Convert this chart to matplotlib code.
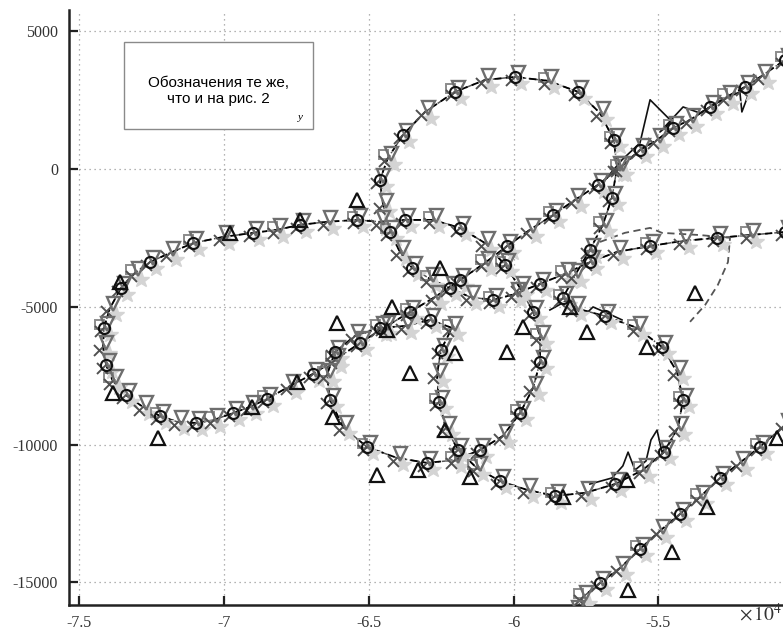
import matplotlib
matplotlib.use("Agg")
import matplotlib.pyplot as plt
from matplotlib.patches import Rectangle
from matplotlib.markers import MarkerStyle
from matplotlib.transforms import Affine2D

# ---------------- data ----------------
path_x = [-50630, -51840, -52980, -54150, -55290, -56430, -57370, -58230, -59090, -59960,
          -60710, -61510, -62200, -62890, -63510, -63930, -64270, -64510, -64620, -64340,
          -63820, -63060, -62030, -60990, -59960, -58820, -57780, -57020, -56540, -56430,
          -56610, -56920, -57370, -57880, -58300, -57880, -56850, -55740, -54880, -54360,
          -54150, -54330, -54810, -55540, -56500, -57540, -58570, -59540, -60470, -61270,
          -61920, -62340, -62580, -62650, -62510, -62130, -62890, -63750, -64620, -65480,
          -66170, -66450, -66340, -65890, -65070, -64030, -62990, -62030, -61160, -60370,
          -59780, -59330, -59090, -59090, -59330, -59780, -60300, -60990, -61850, -62790,
          -63750, -64620, -65410, -66450, -67380, -68170, -69000, -70040, -71070, -71870,
          -72560, -73080, -73560, -73940, -74150, -74180, -74080, -73840, -73390, -72800,
          -72210, -71590, -70970, -70350, -69690, -69110, -68520, -67720, -66930, -66170,
          -65310, -64440, -63580, -62720, -61850, -60990, -60230, -59440, -58640, -57880,
          -57090, -56330, -55640, -55050, -54500, -53910, -53220, -52640, -52010, -51430, -50630]
path_y = [-2280, -2390, -2490, -2600, -2790, -3000, -3370, -3800, -4160, -4530,
          -4750, -4640, -4310, -3980, -3580, -3000, -2280, -1300, -390, 410,
          1250, 2080, 2810, 3240, 3350, 3210, 2810, 2040, 1060, 50,
          -1040, -2020, -2930, -3840, -4670, -5040, -5330, -5760, -6450, -7360,
          -8380, -9390, -10270, -10920, -11430, -11750, -11860, -11640, -11320, -10850,
          -10190, -9390, -8450, -7470, -6560, -5760, -5470, -5690, -5760, -6050,
          -6630, -7470, -8380, -9360, -10080, -10480, -10660, -10560, -10190, -9680,
          -8850, -7940, -7000, -6090, -5180, -4310, -3470, -2680, -2130, -1840,
          -1840, -1910, -1840, -1910, -2020, -2200, -2310, -2460, -2680, -3040,
          -3370, -3770, -4310, -5040, -5760, -6450, -7110, -7690, -8200, -8630,
          -8960, -9180, -9210, -9100, -8850, -8630, -8340, -7870, -7430, -6920,
          -6310, -5730, -5180, -4640, -4020, -3400, -2790, -2200, -1660, -1110,
          -570, 50, 700, 1060, 1500, 1790, 2260, 2630, 2990, 3390, 3970]

seg2_x = [-57880, -57610, -57020, -56330, -55640, -54950, -54260, -53570, -52880, -52190, -51500, -50630]
seg2_y = [-16070, -15530, -15020, -14480, -13790, -13130, -12520, -11900, -11210, -10660, -10080, -9280]

jag1_x = [-56850, -56260, -55640, -55290, -54530, -54950, -54150, -53570, -53050, -52190, -52120, -51770]
jag1_y = [-390, 340, 950, 2520, 1720, 1350, 2260, 2040, 2370, 2810, 2080, 3060]
jag2_x = [-58750, -58060, -57610, -57260, -56780, -56260]
jag2_y = [-5110, -4710, -5360, -5000, -5220, -5470]
jag3_x = [-57370, -56610, -56230, -56050, -55810, -55430, -55260, -55050, -54880, -54530]
jag3_y = [-11430, -11210, -10770, -10270, -10920, -10590, -9830, -9470, -10270, -9830]

det_x = [-57020, -56160, -55290, -54880, -53570, -52530, -52600, -52950, -53390, -53910]
det_y = [-2640, -2310, -2130, -2310, -2390, -2490, -3370, -4200, -4930, -5540]

tri_x = [-67380, -72280, -69800, -65410, -62540, -64200, -64380, -63580, -62030, -62370,
         -64720, -63300, -61510, -66240, -66100, -60230, -58060, -57470, -55400, -56090,
         -58300, -53330, -54530, -56050, -50910, -53740, -73840, -73600, -67480, -69040, -59680]
tri_y = [-1840, -9760, -2310, -1110, -3580, -5000, -5840, -7400, -6670, -9470,
         -11100, -10920, -11170, -8990, -5580, -6630, -5000, -5910, -6450, -11280,
         -11900, -12260, -13900, -15280, -9760, -4490, -8120, -4090, -7720, -8630, -5730]

x_ticks = [-75000, -70000, -65000, -60000, -55000]
x_tick_labels = ['-7.5', '-7', '-6.5', '-6', '-5.5']
y_ticks = [-15000, -10000, -5000, 0, 5000]
y_tick_labels = ['-15000', '-10000', '-5000', '0', '5000']
note_text = "Обозначения те же,\nчто и на рис. 2"


def shifted(marker, dx, dy):
    return MarkerStyle(marker, transform=Affine2D().translate(dx, dy))


# ---------------- figure ----------------
fig = plt.figure(figsize=(7.83, 6.30), dpi=100)
ax = fig.add_axes([69 / 783, 25 / 630, 714 / 783, 595 / 630])
ax.set_xlim(-75356, -50700)
ax.set_ylim(-15820, 5780)

ax.grid(True, color='#9a9a9a', linestyle=(0, (1, 3)), linewidth=0.9)
ax.set_axisbelow(True)

# lines
for xs, ys in ((path_x, path_y), (seg2_x, seg2_y)):
    ax.plot(xs, ys, color='#555555', linestyle='-.', linewidth=1.1, zorder=2)
    ax.plot(xs, ys, color='black', linestyle=(0, (4, 2.5)), linewidth=1.3, zorder=2)
for xs, ys in ((jag1_x, jag1_y), (jag2_x, jag2_y), (jag3_x, jag3_y)):
    ax.plot(xs, ys, color='#111111', linestyle='-', linewidth=1.2, zorder=3)
ax.plot(det_x, det_y, color='#555555', linestyle=(0, (4, 2.5)), linewidth=1.3, zorder=3)

# markers
for xs, ys in ((path_x, path_y), (seg2_x, seg2_y)):
    ax.plot(xs, ys, linestyle='none', marker=shifted('*', 0.35, -0.4), ms=12,
            color='#d4d4d4', mec='#d4d4d4', zorder=4)
    ax.plot(xs[1::3], ys[1::3], linestyle='none', marker=shifted('s', -0.45, 0.35), ms=7,
            mfc='none', mec='#8c8c8c', mew=1.4, zorder=5)
    ax.plot(xs, ys, linestyle='none', marker=shifted('x', -0.3, -0.3), ms=8.5,
            mec='#505050', mew=1.4, zorder=5)
    ax.plot(xs, ys, linestyle='none', marker=shifted('v', 0.25, 0.3), ms=10,
            mfc='none', mec='#6e6e6e', mew=1.7, zorder=6)
    ax.plot(xs[0::2], ys[0::2], linestyle='none', marker='o', ms=8,
            mfc='none', mec='#111111', mew=1.5, zorder=7)
ax.plot(tri_x, tri_y, linestyle='none', marker='^', ms=9.5,
        mfc='none', mec='#111111', mew=1.6, zorder=7)

# axes styling
for side in ('top', 'right'):
    ax.spines[side].set_visible(False)
for side in ('left', 'bottom'):
    ax.spines[side].set_linewidth(1.8)
    ax.spines[side].set_color('#222222')
ax.set_xticks(x_ticks)
ax.set_xticklabels(x_tick_labels)
ax.set_yticks(y_ticks)
ax.set_yticklabels(y_tick_labels)
ax.tick_params(direction='in', length=6.5, width=1.6, color='#222222',
               labelsize=11.5, labelcolor='#333333')
ax.tick_params(axis='y', pad=8)
ax.tick_params(axis='x', pad=7)
for lab in ax.get_xticklabels() + ax.get_yticklabels():
    lab.set_fontfamily('Liberation Serif')

# note box
ax.add_patch(Rectangle((0.077, 0.800), 0.2647, 0.146, transform=ax.transAxes,
                       facecolor='white', edgecolor='#8a8a8a', linewidth=1.0, zorder=10))
ax.text(0.2087, 0.864, note_text, transform=ax.transAxes, ha='center', va='center',
        fontsize=11, family='Liberation Sans', linespacing=1.2, zorder=11)
ax.text(0.3235, 0.820, 'y', transform=ax.transAxes, ha='center', va='center',
        fontsize=8, family='Liberation Serif', style='italic', zorder=11)

# offset label
fig.text(0.9995, 1 - 614 / 630, r'$\times\,10^{4}$', ha='right', va='center',
         fontsize=14, color='#333333', math_fontfamily='stix', zorder=20)

fig.savefig('out.png', dpi=100)
